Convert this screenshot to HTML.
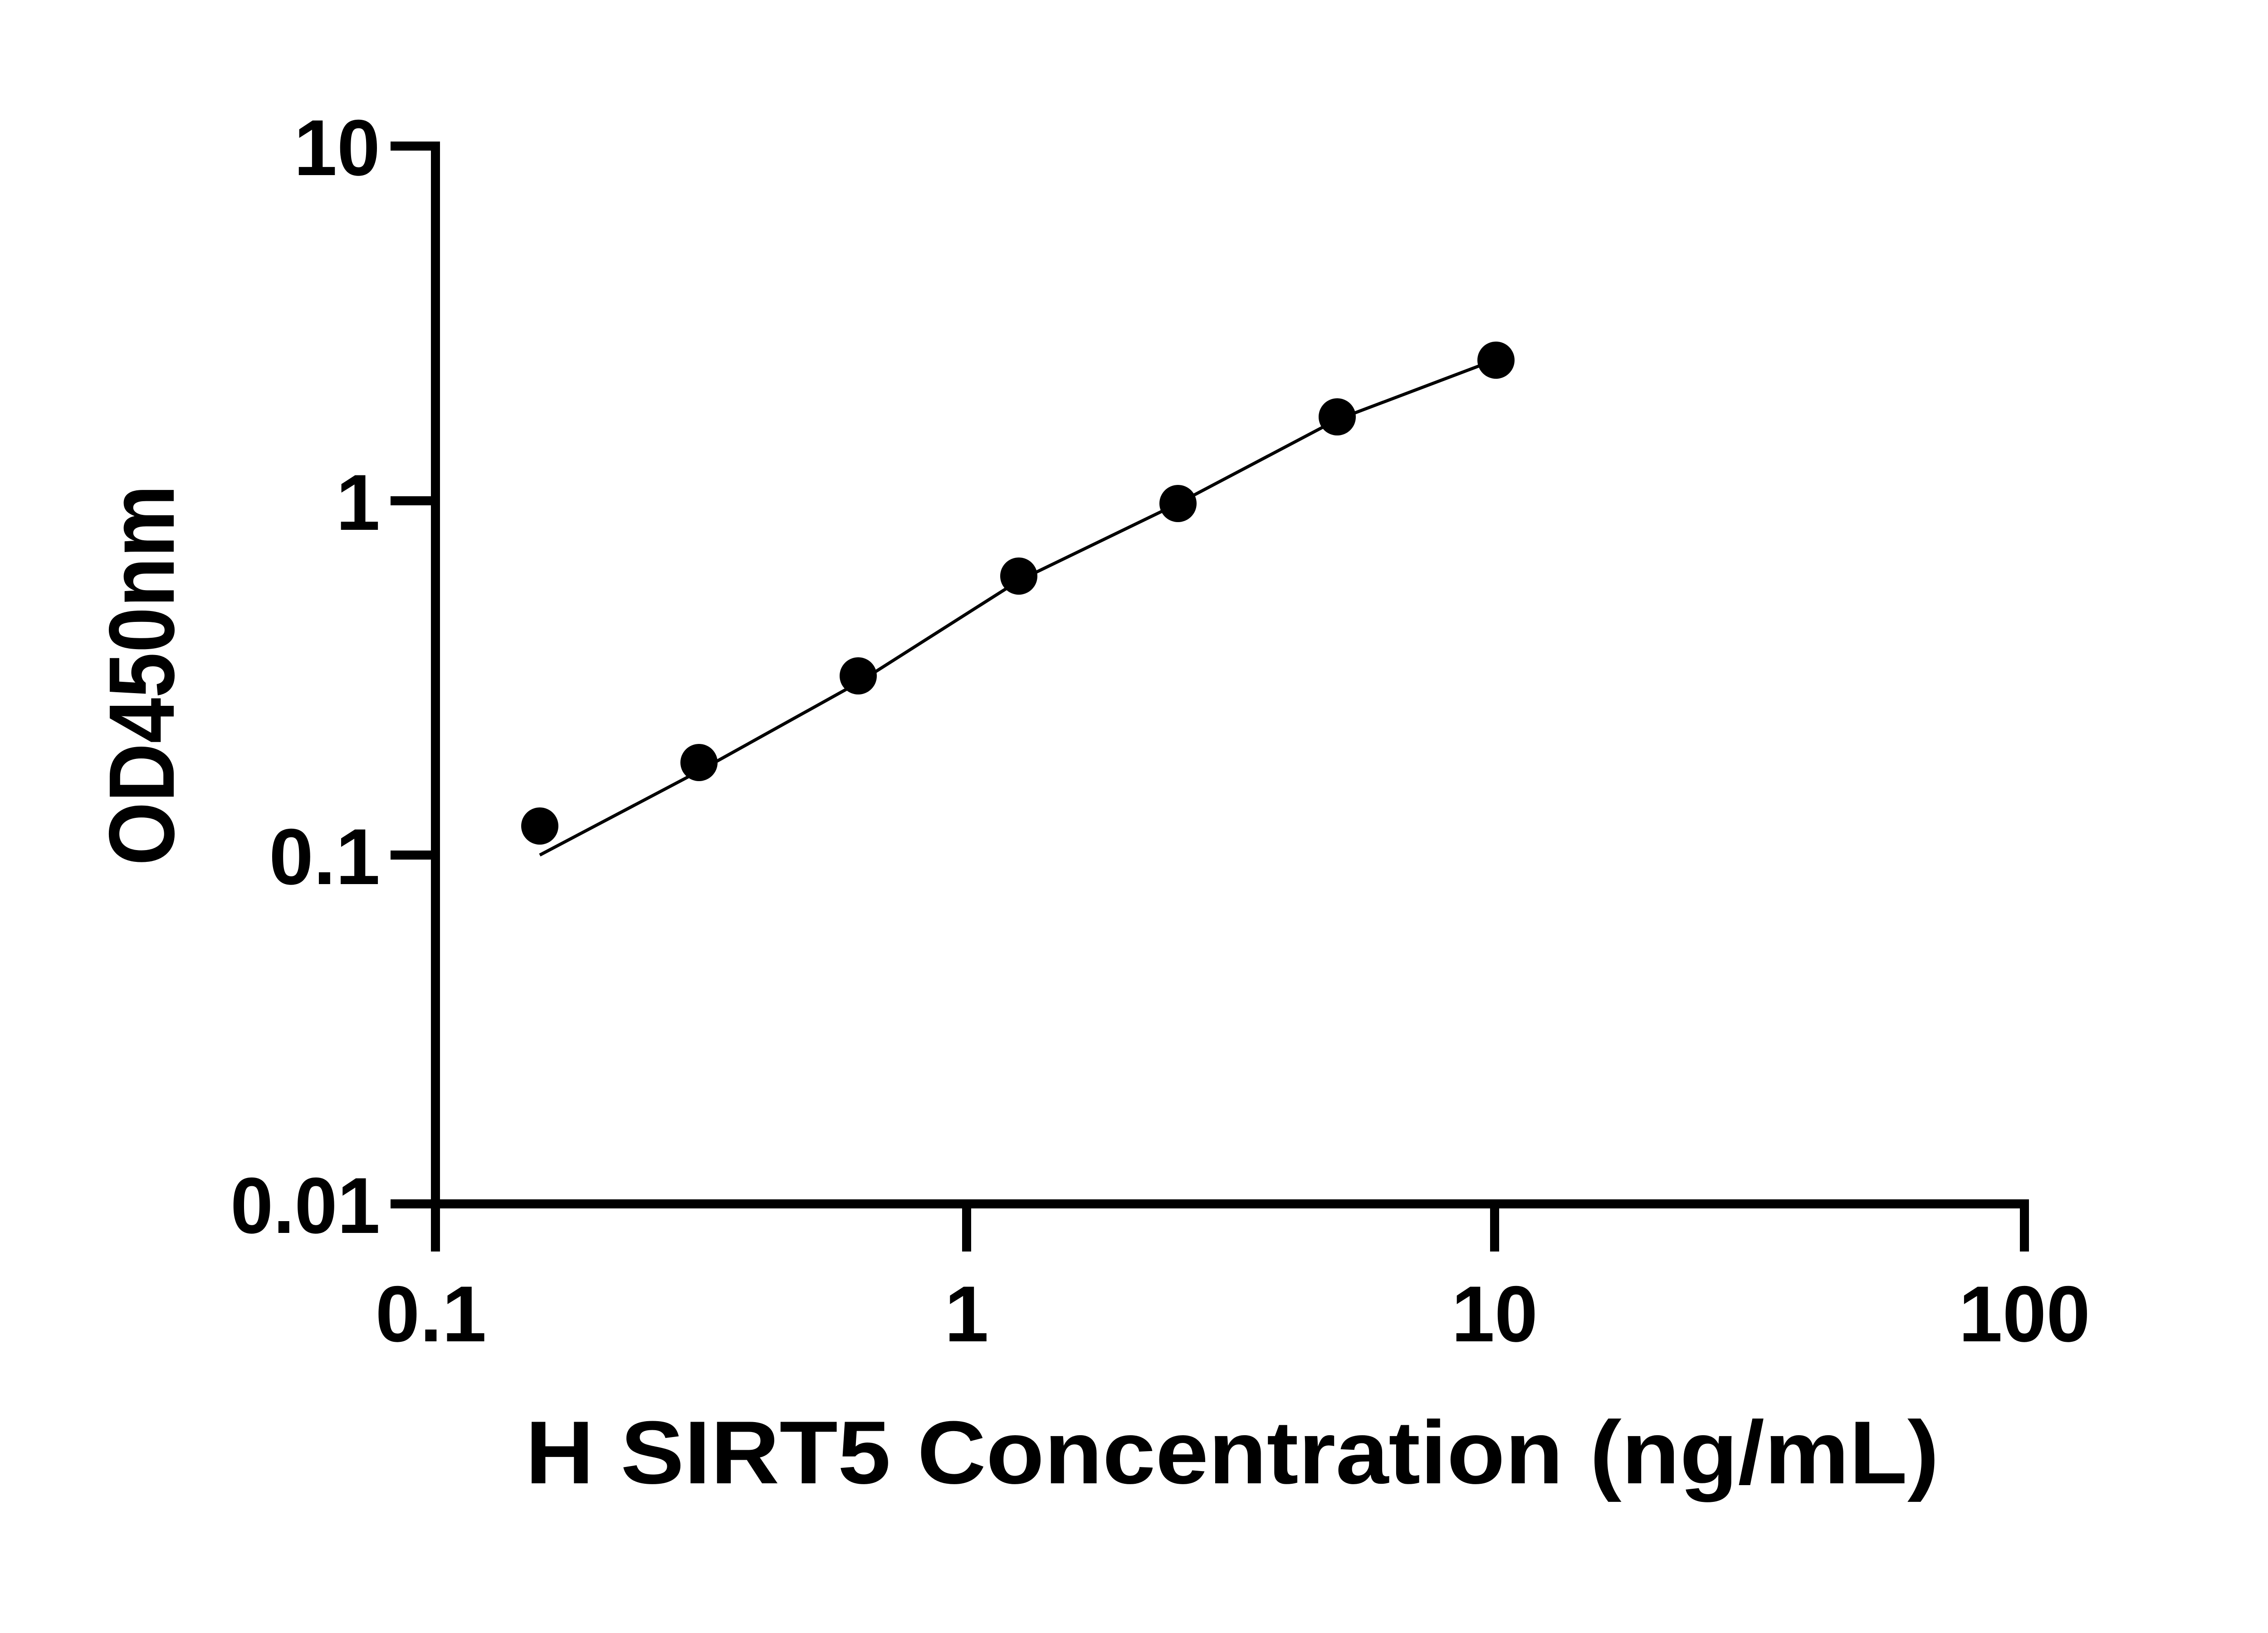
<!DOCTYPE html>
<html><head><style>html,body{margin:0;padding:0;background:#fff}svg{display:block}</style></head>
<body>
<svg width="5142" height="3600" viewBox="0 0 5142 3600" xmlns="http://www.w3.org/2000/svg">
<rect width="5142" height="3600" fill="#fff"/>
<g stroke="#000" stroke-width="20" fill="none" stroke-linecap="butt">
<line x1="960" y1="312" x2="960" y2="2759"/>
<line x1="861" y1="2654" x2="4473" y2="2654"/>
<line x1="861" y1="322" x2="960" y2="322"/>
<line x1="861" y1="1104" x2="960" y2="1104"/>
<line x1="861" y1="1885" x2="960" y2="1885"/>
<line x1="2131" y1="2654" x2="2131" y2="2759"/>
<line x1="3295" y1="2654" x2="3295" y2="2759"/>
<line x1="4463" y1="2654" x2="4463" y2="2759"/>
</g>
<g font-family="Liberation Sans, sans-serif" font-weight="bold" font-size="175" fill="#000">
<text x="838" y="386" text-anchor="end" textLength="190" lengthAdjust="spacingAndGlyphs">10</text>
<text x="838" y="1168" text-anchor="end">1</text>
<text x="838" y="1949" text-anchor="end" textLength="245" lengthAdjust="spacingAndGlyphs">0.1</text>
<text x="838" y="2718" text-anchor="end" textLength="330" lengthAdjust="spacingAndGlyphs">0.01</text>
<text x="950" y="2957" text-anchor="middle" textLength="245" lengthAdjust="spacingAndGlyphs">0.1</text>
<text x="2131" y="2957" text-anchor="middle">1</text>
<text x="3295" y="2957" text-anchor="middle" textLength="190" lengthAdjust="spacingAndGlyphs">10</text>
<text x="4463" y="2957" text-anchor="middle" textLength="290" lengthAdjust="spacingAndGlyphs">100</text>
</g>
<text x="1158" y="3270" font-family="Liberation Sans, sans-serif" font-weight="bold" font-size="197" textLength="3117" lengthAdjust="spacingAndGlyphs">H SIRT5 Concentration (ng/mL)</text>
<text transform="translate(383,1908) rotate(-90)" x="0" y="0" font-family="Liberation Sans, sans-serif" font-weight="bold" font-size="205" textLength="839" lengthAdjust="spacingAndGlyphs">OD450nm</text>
<polyline points="1190,1885 1541,1700 1892,1505 2246,1280 2597,1110 2948,925 3260,807" fill="none" stroke="#000" stroke-width="7"/>
<g fill="#000">
<circle cx="1190" cy="1821" r="41"/>
<circle cx="1541" cy="1681" r="41"/>
<circle cx="1892" cy="1490" r="41"/>
<circle cx="2246" cy="1270" r="41"/>
<circle cx="2597" cy="1110" r="41"/>
<circle cx="2948" cy="919" r="41"/>
<circle cx="3298" cy="794" r="41"/>
</g>
</svg>
</body></html>
